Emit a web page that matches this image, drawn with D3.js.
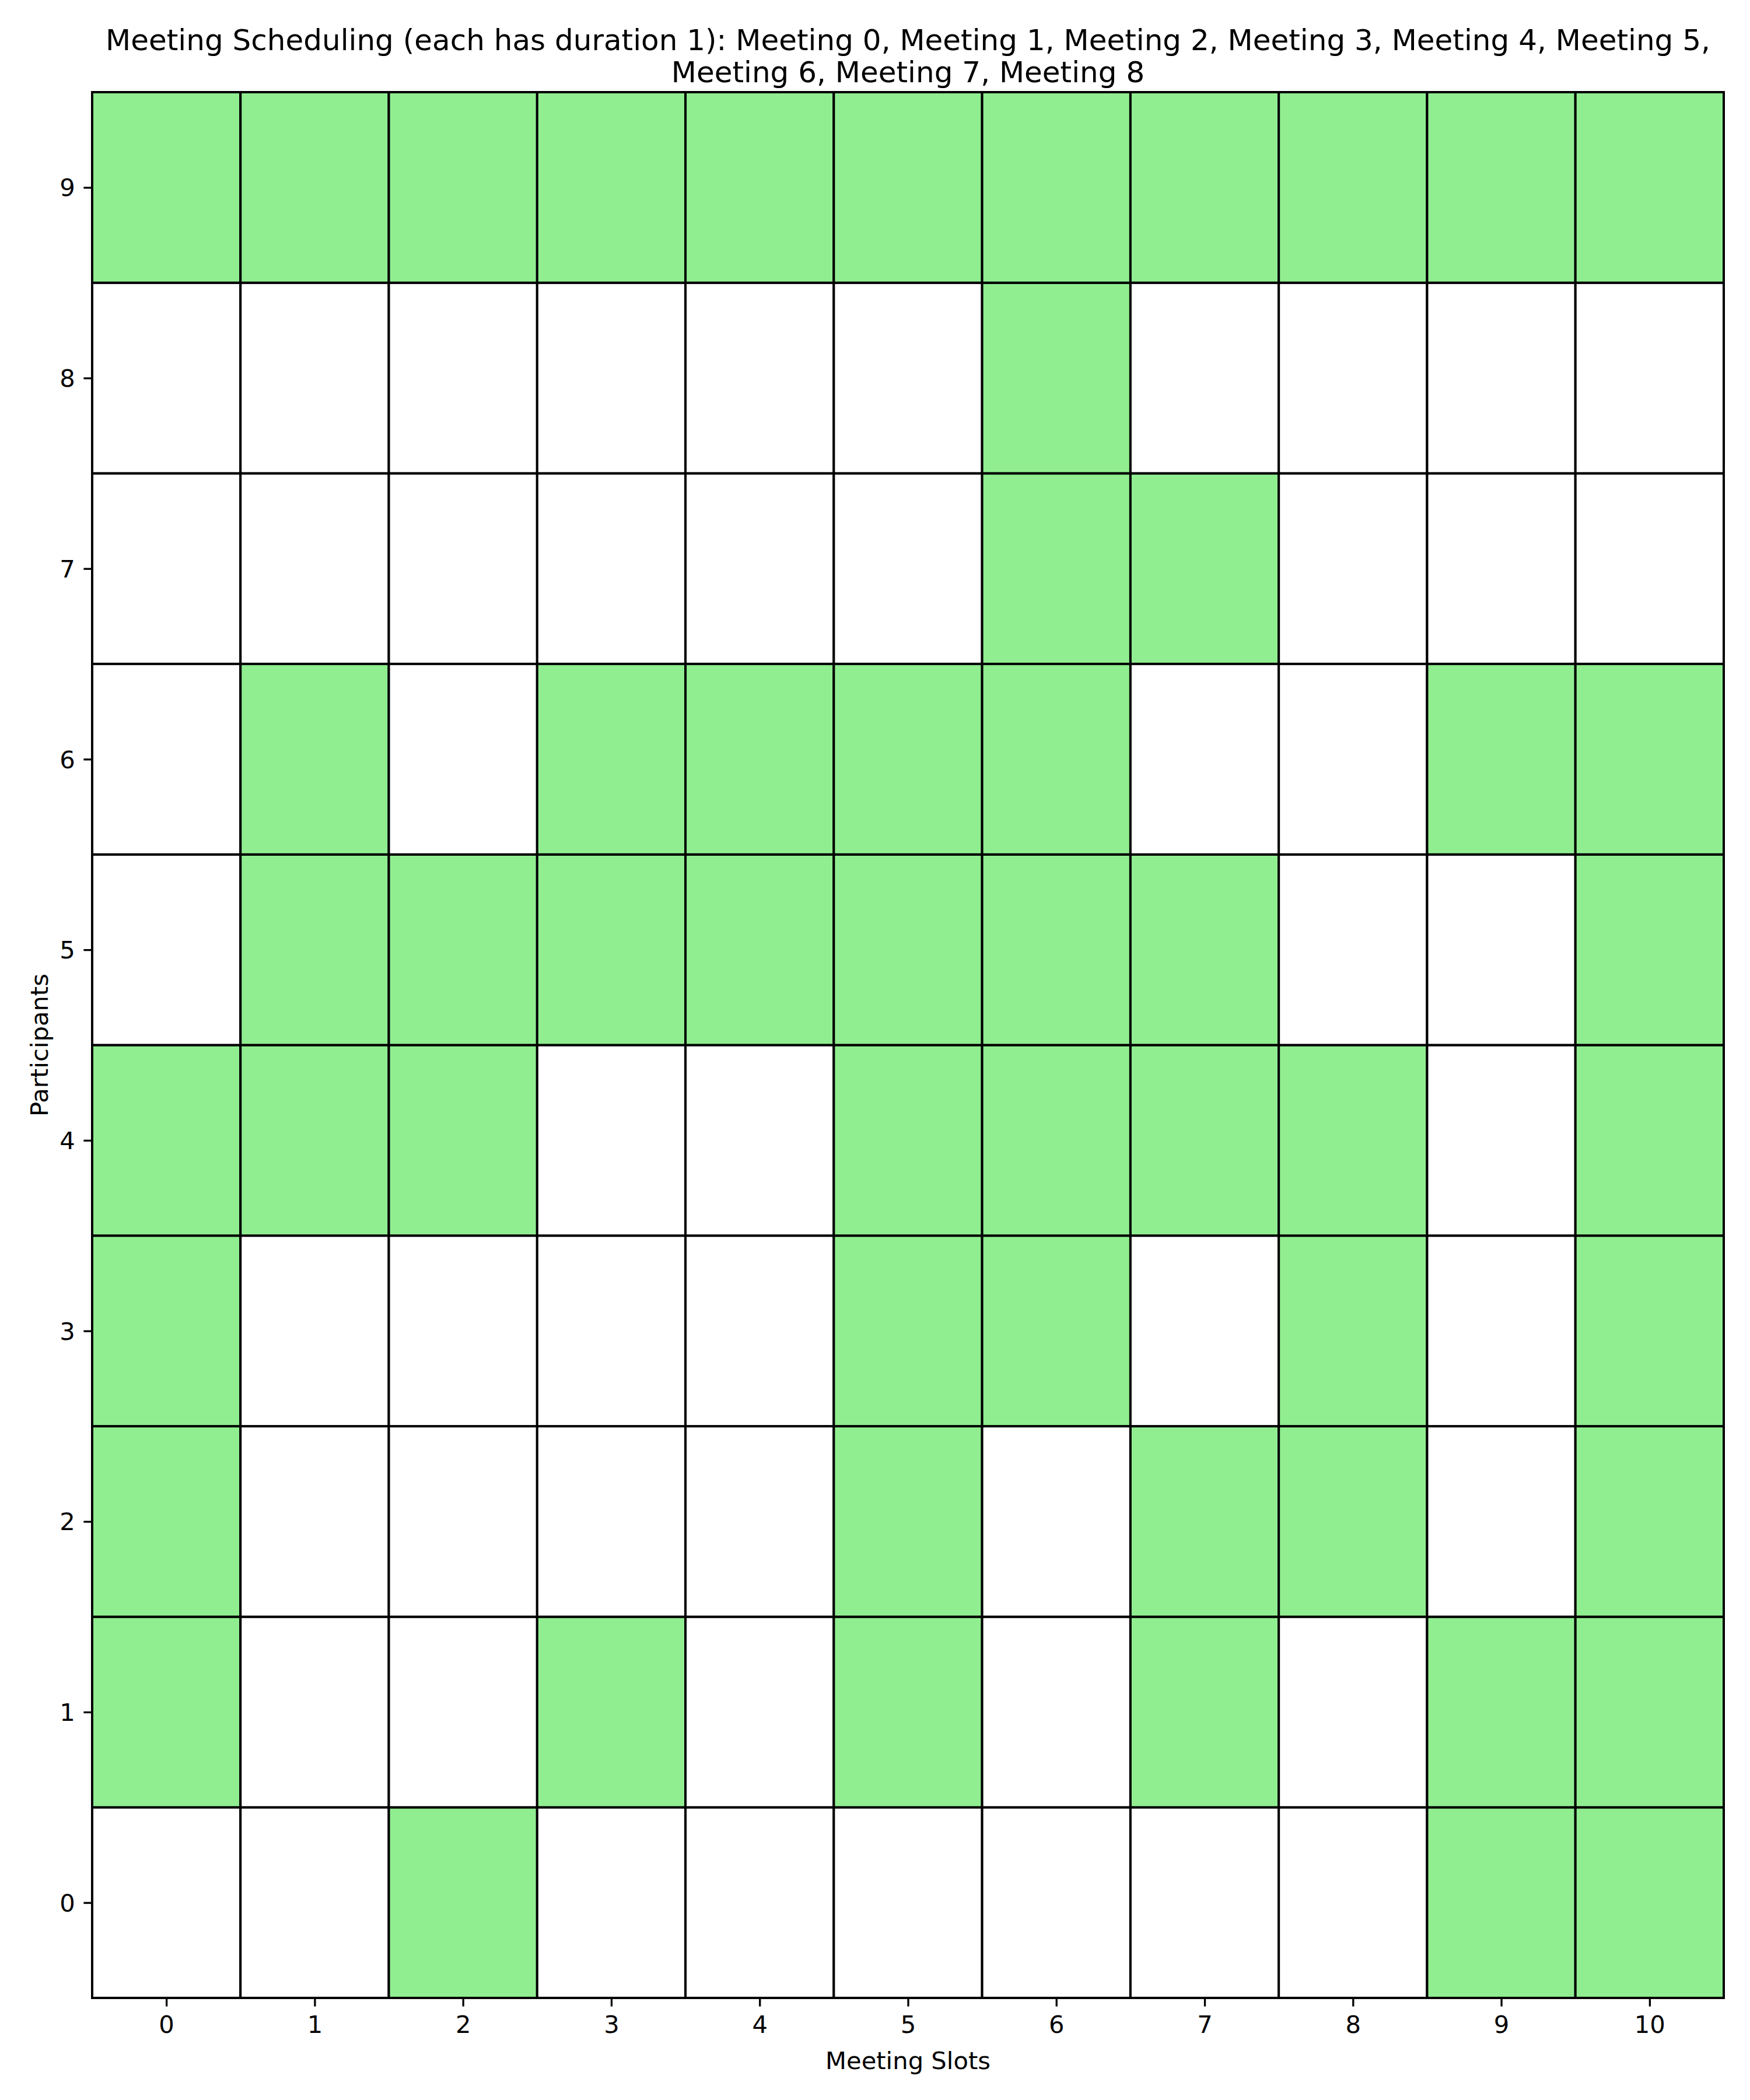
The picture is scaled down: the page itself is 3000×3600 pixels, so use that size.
<!DOCTYPE html>
<html>
<head>
<meta charset="utf-8">
<script src="https://cdn.jsdelivr.net/npm/d3@7"></script>
<style>
  html, body { margin: 0; padding: 0; background: #fff; }
  svg { display: block; }
  text { font-family: "DejaVu Sans", sans-serif; fill: #000; }
</style>
</head>
<body>
<script>
// ---- data ----
const slots = [0, 1, 2, 3, 4, 5, 6, 7, 8, 9, 10];
const participants = [0, 1, 2, 3, 4, 5, 6, 7, 8, 9];
// green (available) slots per participant
const available0 = [2, 9, 10];
const available1 = [0, 3, 5, 7, 9, 10];
const available2 = [0, 5, 7, 8, 10];
const available3 = [0, 5, 6, 8, 10];
const available4 = [0, 1, 2, 5, 6, 7, 8, 10];
const available5 = [1, 2, 3, 4, 5, 6, 7, 10];
const available6 = [1, 3, 4, 5, 6, 9, 10];
const available7 = [6, 7];
const available8 = [6];
const available9 = [0, 1, 2, 3, 4, 5, 6, 7, 8, 9, 10];
const availability = [available0, available1, available2, available3, available4,
                      available5, available6, available7, available8, available9];
const titleLines = [
  "Meeting Scheduling (each has duration 1): Meeting 0, Meeting 1, Meeting 2, Meeting 3, Meeting 4, Meeting 5,",
  "Meeting 6, Meeting 7, Meeting 8"
];
const xLabel = "Meeting Slots";
const yLabel = "Participants";

const cells = [];
participants.forEach(p => {
  slots.forEach(s => {
    cells.push({ p, s, on: availability[p].includes(s) });
  });
});

// ---- layout ----
const W = 3000, H = 3600;
const L = 158, R = 2955, T = 158, B = 3425;
const GREEN = "#90ee90";

const svg = d3.select("body").append("svg")
  .attr("width", W).attr("height", H);

const x = d3.scaleLinear().domain([-0.5, slots.length - 0.5]).range([L, R]);
const y = d3.scaleLinear().domain([-0.5, participants.length - 0.5]).range([B, T]);

// cells
svg.append("g").selectAll("rect").data(cells).join("rect")
  .attr("x", d => x(d.s - 0.5))
  .attr("y", d => y(d.p + 0.5))
  .attr("width", d => x(d.s + 0.5) - x(d.s - 0.5))
  .attr("height", d => y(d.p - 0.5) - y(d.p + 0.5))
  .attr("fill", d => d.on ? GREEN : "#ffffff")
  .attr("stroke", "#000")
  .attr("stroke-width", 4);

// axes
const tickLen = 14.6, tickPad = 14.6;
const xAxis = d3.axisBottom(x).tickValues(slots).tickFormat(d3.format("d"))
  .tickSizeInner(tickLen).tickSizeOuter(0).tickPadding(tickPad);
const yAxis = d3.axisLeft(y).tickValues(participants).tickFormat(d3.format("d"))
  .tickSizeInner(tickLen).tickSizeOuter(0).tickPadding(tickPad);

const gx = svg.append("g").attr("transform", `translate(0,${B})`).call(xAxis);
const gy = svg.append("g").attr("transform", `translate(${L},0)`).call(yAxis);
[gx, gy].forEach(g => {
  g.select(".domain").remove();
  g.selectAll(".tick line").attr("stroke", "#000").attr("stroke-width", 3.3);
  g.selectAll(".tick text").attr("font-size", 41.7)
    .attr("font-family", "DejaVu Sans").attr("fill", "#000");
});
gx.selectAll(".tick text").attr("dy", null).attr("y", null)
  .attr("transform", null)
  .attr("y", tickLen + tickPad).attr("dominant-baseline", "hanging")
  .attr("dy", 0);
gy.selectAll(".tick text").attr("dy", "0.35em");

// spines
svg.append("rect")
  .attr("x", L).attr("y", T).attr("width", R - L).attr("height", B - T)
  .attr("fill", "none").attr("stroke", "#000").attr("stroke-width", 3.3);

// labels
svg.append("text")
  .attr("x", (L + R) / 2).attr("y", 3547)
  .attr("text-anchor", "middle").attr("font-size", 41.7)
  .text(xLabel);

svg.append("text")
  .attr("transform", `translate(82,${(T + B) / 2}) rotate(-90)`)
  .attr("text-anchor", "middle").attr("font-size", 41.7)
  .text(yLabel);

// title
svg.append("g").selectAll("text").data(titleLines).join("text")
  .attr("x", (L + R) / 2)
  .attr("y", (d, i) => 86 + i * 54.5)
  .attr("text-anchor", "middle").attr("font-size", 50)
  .text(d => d);
</script>
</body>
</html>
